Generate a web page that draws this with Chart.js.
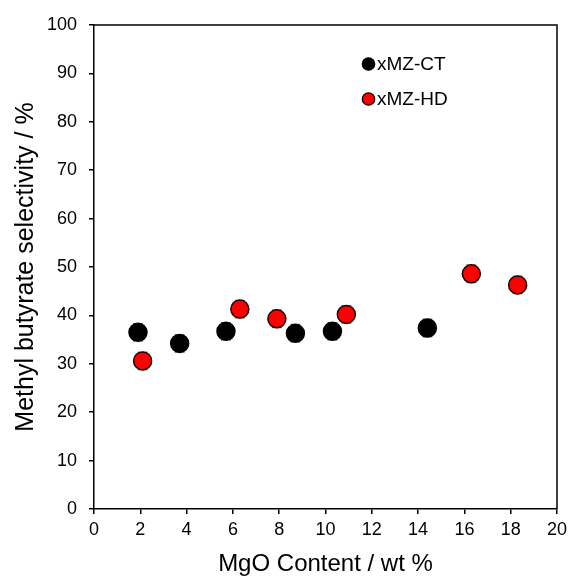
<!DOCTYPE html>
<html><head><meta charset="utf-8">
<script src="https://cdn.jsdelivr.net/npm/chart.js@4.4.1/dist/chart.umd.min.js"></script>
<style>html,body{margin:0;padding:0;background:#fff}#wrap{width:576px;height:581px}</style>
</head><body><div id="wrap"><canvas id="c" width="576" height="581"></canvas></div>
<script>
const ctX = [1.9, 3.7, 5.7, 8.7, 10.3, 14.4];
const ctY = [36.5, 34.2, 36.7, 36.3, 36.7, 37.4];
const ctErr = [1.8, 1.8, 1.8, 1.8, 1.8, 1.8];
const hdX = [2.1, 6.3, 7.9, 10.9, 16.3, 18.3];
const hdY = [30.6, 41.3, 39.3, 40.2, 48.6, 46.3];
const hdErr = [1.8, 1.8, 1.8, 1.8, 1.8, 1.8];
const seriesNames = ['xMZ-CT', 'xMZ-HD'];
const xTicks = [0,2,4,6,8,10,12,14,16,18,20];
const yTicks = [0,10,20,30,40,50,60,70,80,90,100];
const FONT = "Arial, 'Liberation Sans', sans-serif";

const toPts = (xs, ys, es) => xs.map((x, i) => ({x, y: ys[i], e: es[i]}));

const errPlugin = {
  id: 'errbars',
  beforeDatasetsDraw(chart) {
    const {ctx, scales: {x, y}} = chart;
    ctx.save();
    ctx.strokeStyle = '#8a8a8a';
    ctx.lineWidth = 1.5;
    chart.data.datasets.forEach(ds => {
      ds.data.forEach(p => {
        const px = x.getPixelForValue(p.x);
        const y1 = y.getPixelForValue(p.y + p.e), y2 = y.getPixelForValue(p.y - p.e);
        ctx.beginPath();
        ctx.moveTo(px, y1); ctx.lineTo(px, y2);
        ctx.moveTo(px - 5, y1); ctx.lineTo(px + 5, y1);
        ctx.moveTo(px - 5, y2); ctx.lineTo(px + 5, y2);
        ctx.stroke();
      });
    });
    ctx.restore();
  },
  afterDraw(chart) {
    const {ctx, chartArea: a} = chart;
    ctx.save();
    ctx.strokeStyle = '#000';
    ctx.lineWidth = 1.5;
    ctx.beginPath();
    ctx.moveTo(a.left, a.top); ctx.lineTo(a.right, a.top); ctx.lineTo(a.right, a.bottom);
    ctx.stroke();
    const items = [{c:'#000000', y:64}, {c:'#ff0000', y:99}];
    ctx.font = '19px ' + FONT;
    ctx.textBaseline = 'middle';
    items.forEach((it, i) => {
      ctx.beginPath();
      ctx.arc(368.5, it.y, 6.2, 0, Math.PI * 2);
      ctx.fillStyle = it.c; ctx.fill();
      ctx.lineWidth = 1.3; ctx.strokeStyle = '#000'; ctx.stroke();
      ctx.fillStyle = '#000';
      ctx.fillText(seriesNames[i], 377, it.y + 1);
    });
    ctx.restore();
  }
};

new Chart(document.getElementById('c'), {
  type: 'scatter',
  data: {
    datasets: [
      {label: seriesNames[0], data: toPts(ctX, ctY, ctErr), backgroundColor: '#000000', borderColor: '#000000', borderWidth: 1.5, pointRadius: 9, pointHoverRadius: 9},
      {label: seriesNames[1], data: toPts(hdX, hdY, hdErr), backgroundColor: '#ff0000', borderColor: '#1a0000', borderWidth: 1.5, pointRadius: 9, pointHoverRadius: 9}
    ]
  },
  options: {
    responsive: false,
    animation: false,
    events: [],
    layout: {padding: {left: 0, top: 25, right: 19, bottom: 0}},
    plugins: {legend: {display: false}, tooltip: {enabled: false}},
    scales: {
      x: {
        type: 'linear', min: 0, max: 20,
        afterBuildTicks: ax => { ax.ticks = xTicks.map(v => ({value: v})); },
        afterFit: ax => { ax.height = 72; },
        border: {color: '#000', width: 1.5},
        grid: {drawOnChartArea: false, drawTicks: true, tickLength: 5, color: '#000', lineWidth: 1.5},
        ticks: {color: '#000', font: {family: FONT, size: 18}, padding: 5, maxRotation: 0},
        title: {display: true, text: 'MgO Content / wt %', color: '#000', font: {family: FONT, size: 24}, padding: {top: 0, bottom: 2}}
      },
      y: {
        type: 'linear', min: 0, max: 100,
        afterBuildTicks: ax => { ax.ticks = yTicks.map(v => ({value: v})); },
        afterFit: ax => { ax.width = 94; },
        border: {color: '#000', width: 1.5},
        grid: {drawOnChartArea: false, drawTicks: true, tickLength: 5, color: '#000', lineWidth: 1.5},
        ticks: {color: '#000', font: {family: FONT, size: 18}, padding: 12},
        title: {display: true, text: 'Methyl butyrate selectivity / %', color: '#000', font: {family: FONT, size: 25}, padding: {top: 11, bottom: 0}}
      }
    }
  },
  plugins: [errPlugin]
});
</script></body></html>
